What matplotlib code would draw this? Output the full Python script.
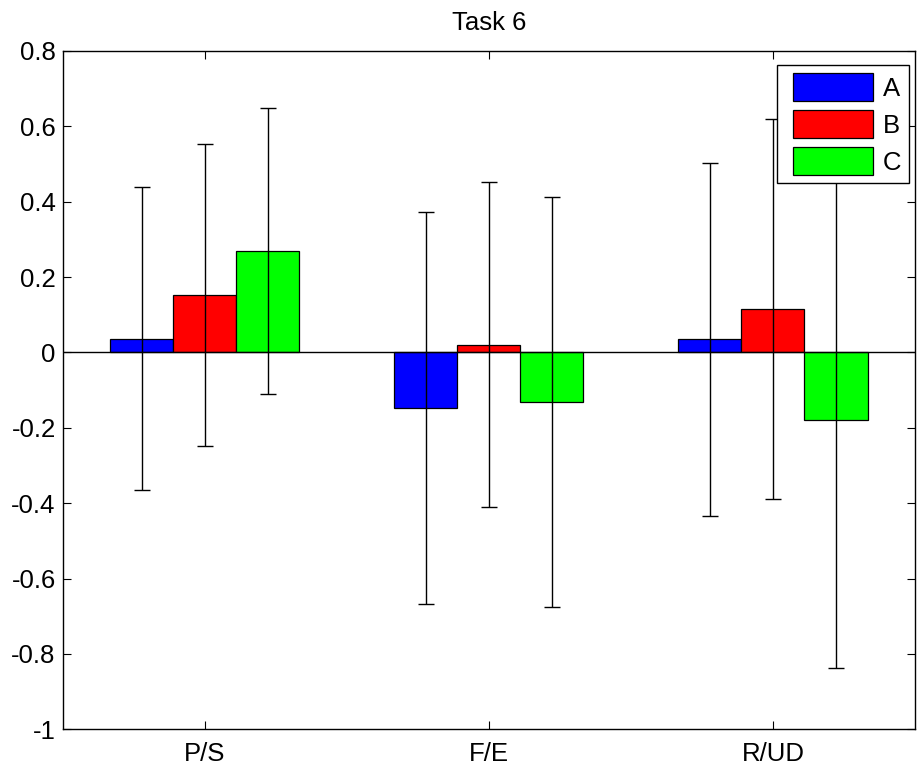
import matplotlib
matplotlib.use("Agg")
import matplotlib.pyplot as plt
from matplotlib.patches import Rectangle
from matplotlib.legend_handler import HandlerPatch
import numpy as np

plt.rcParams['font.family'] = ['Liberation Sans', 'DejaVu Sans']

categories = ["P/S", "F/E", "R/UD"]
series_names = ["A", "B", "C"]
means_A = [0.037, -0.147, 0.035]
means_B = [0.152, 0.021, 0.115]
means_C = [0.269, -0.132, -0.180]
err_A = [0.403, 0.520, 0.468]
err_B = [0.400, 0.432, 0.505]
err_C = [0.380, 0.544, 0.658]
colors = ["#0000ff", "#ff0000", "#00ff00"]

means = [means_A, means_B, means_C]
errs = [err_A, err_B, err_C]

FS = 18.5

fig = plt.figure(figsize=(9.19, 7.69), dpi=100)
ax = fig.add_axes([0.0682, 0.0516, 0.9274, 0.8821])

x = np.arange(1, len(categories) + 1)
width = 0.222
offsets = [-width, 0.0, width]

handles = []
for m, e, c, off, name in zip(means, errs, colors, offsets, series_names):
    bars = ax.bar(x + off, m, width=width, color=c, edgecolor="black",
                  linewidth=0.9, label=name, zorder=2)
    handles.append(bars[0])
    ax.errorbar(x + off, m, yerr=e, fmt="none", ecolor="black",
                elinewidth=1.0, capsize=6, capthick=1.0, zorder=3)

ax.axhline(0, color="black", linewidth=1.0, zorder=2.5)

ax.set_xlim(0.5, 3.5)
ax.set_ylim(-1, 0.8)
ax.set_xticks(x)
ax.set_xticklabels(categories)
ax.set_yticks(np.arange(-1, 0.81, 0.2))
ax.set_yticklabels(["-1", "-0.8", "-0.6", "-0.4", "-0.2", "0", "0.2", "0.4", "0.6", "0.8"])
ax.tick_params(direction="in", length=6, width=0.8, labelsize=FS,
               top=True, right=True)
ax.tick_params(axis="y", pad=5)
ax.tick_params(axis="x", pad=9)
for s in ax.spines.values():
    s.set_linewidth(1.0)

ax.set_title("Task 6", fontsize=FS, pad=15)


def inset_patch(legend, orig_handle, xdescent, ydescent, width, height, fontsize):
    # leave some blank room on the left of each legend swatch
    shift = 0.31 * fontsize
    return Rectangle((-xdescent + shift, -ydescent), width - shift, height)


leg = ax.legend(handles=handles, labels=series_names, loc="upper right",
                bbox_to_anchor=(0.993, 0.979), borderaxespad=0,
                fontsize=FS, handlelength=3.42, handleheight=1.30,
                labelspacing=0.36, handletextpad=0.39, borderpad=0.30,
                fancybox=False, framealpha=1, edgecolor="black",
                handler_map={Rectangle: HandlerPatch(patch_func=inset_patch)})
leg.get_frame().set_linewidth(1.0)
leg.set_zorder(5)

fig.savefig("out.png", dpi=100)
